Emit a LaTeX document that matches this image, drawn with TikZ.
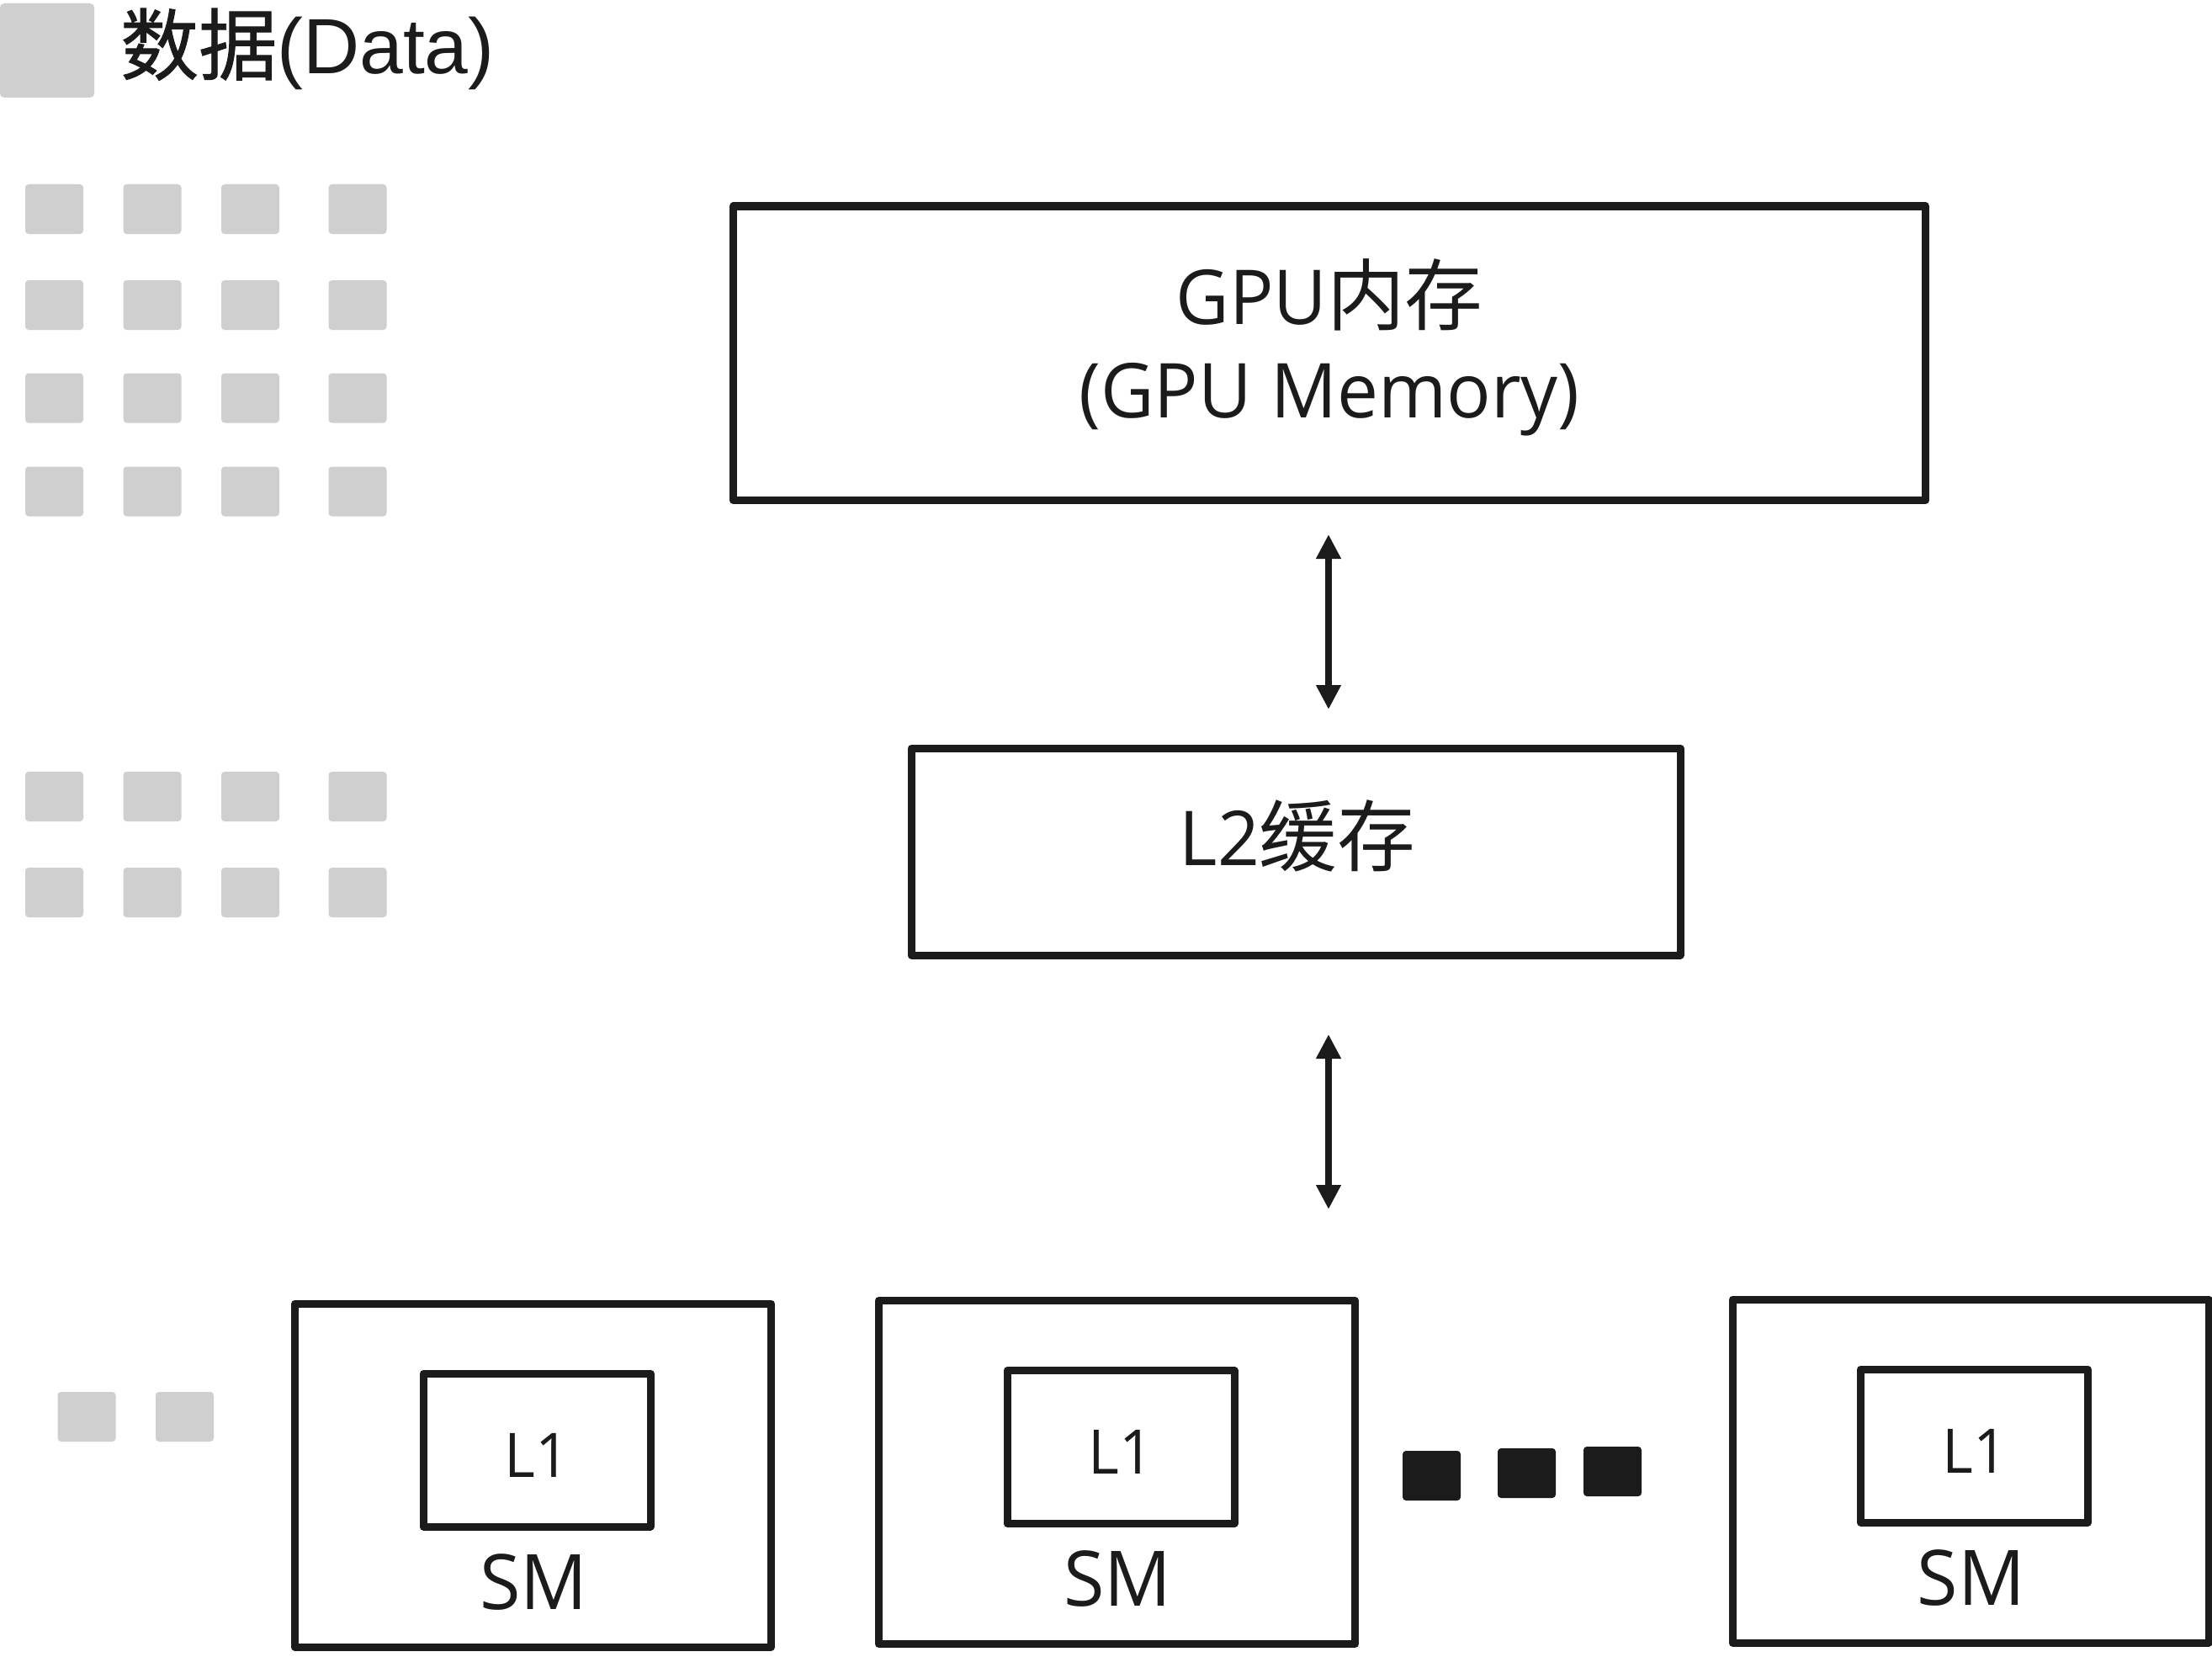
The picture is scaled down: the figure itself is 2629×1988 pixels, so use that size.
\documentclass[tikz,border=0pt]{standalone}
\usepackage{fontspec}
\usetikzlibrary{arrows.meta,calc}
\newfontfamily\cjk[Scale=1.03]{Noto Sans CJK SC}
\newfontfamily\cjkb[FakeBold=1]{Noto Sans CJK SC}
\newfontfamily\seg[FakeStretch=0.97]{Open Sans}
\newfontfamily\ari{Liberation Sans}
\definecolor{ink}{HTML}{1B1B1B}
\definecolor{datagray}{HTML}{CFCFCF}
\begin{document}
\begin{tikzpicture}[x=1pt,y=-1pt,
  box/.style={draw=ink, line width=9pt, line join=round, inner sep=0pt, outer sep=0pt},
  datasq/.style={fill=datagray, rounded corners=4pt, minimum width=69pt, minimum height=59pt, inner sep=0pt, outer sep=0pt},
  busysq/.style={fill=ink, rounded corners=4pt, minimum width=69pt, minimum height=59pt, inner sep=0pt, outer sep=0pt},
  bigtxt/.style={text=ink, inner sep=0pt, anchor=base, font=\fontsize{90}{100}\selectfont},
  l1txt/.style={text=ink, inner sep=0pt, anchor=base, font=\fontsize{73}{80}\selectfont\seg},
  smtxt/.style={text=ink, inner sep=0pt, anchor=base, font=\fontsize{91}{100}\selectfont\seg},
  dblarrow/.style={draw=ink, line width=8pt, {Triangle[width=28pt,length=29pt]}-{Triangle[width=28pt,length=29pt]}}
]
\fill[white] (0,0) rectangle (2629,1988);
\useasboundingbox (0,0) rectangle (2629,1988);

% legend
\node[datasq, minimum width=112pt, minimum height=112pt, rounded corners=5pt] (legsq) at (56,60) {};
\node[text=ink, inner sep=0pt, anchor=base west, font=\fontsize{93}{100}\selectfont] (legtxt) at (143,88) {{\cjkb 数据}{\ari (Data)}};

% data grid
\foreach \r/\y in {1/248.5, 2/362.5, 3/473, 4/584, 5/946.5, 6/1060.5} {
  \foreach \c/\x in {1/64.5, 2/181, 3/297.5, 4/425} {
    \node[datasq] (g\r\c) at (\x,\y) {};
  }
}
\node[datasq] (b1) at (103,1683.5) {};
\node[datasq] (b2) at (219.5,1683.5) {};

% GPU memory
\node[box, minimum width=1417pt, minimum height=349.5pt] (gpu) at (1580,419.75) {};
\node[bigtxt] (gpuzh) at (1580,385) {{\seg GPU}{\cjk 内存}};
\node[bigtxt] (gpuen) at (1580,496) {\seg (GPU Memory)};

% L2
\node[box, minimum width=914pt, minimum height=246pt] (l2) at (1540,1012) {};
\node[bigtxt] (l2txt) at (1542,1028) {{\seg L2}{\cjk 缓存}};

% arrows
\coordinate (a1t) at (1579,635);
\coordinate (a1b) at (1579,843);
\draw[dblarrow] (a1t) -- (a1b);
\coordinate (a2t) at (1579,1229);
\coordinate (a2b) at (1579,1437);
\draw[dblarrow] (a2t) -- (a2b);

% SMs
\foreach \i/\cx/\cy in {1/633.5/1753, 2/1327.5/1749.5, 3/2342/1748} {
  \node[box, minimum width=566pt, minimum height=408pt] (sm\i) at (\cx,\cy) {};
  \node[box, minimum width=270pt, minimum height=182pt] (l1box\i) at ($(sm\i.center)+(4.5,-30)$) {};
  \node[l1txt] (l1t\i) at ($(sm\i.center)+(5,2)$) {L1};
  \node[smtxt] (smt\i) at ($(sm\i.center)+(1,159)$) {SM};
}

% busy squares
\node[busysq] (k1) at (1701.5,1753.5) {};
\node[busysq] (k2) at (1814.5,1750.5) {};
\node[busysq] (k3) at (1916.5,1748.5) {};
\end{tikzpicture}
\end{document}
